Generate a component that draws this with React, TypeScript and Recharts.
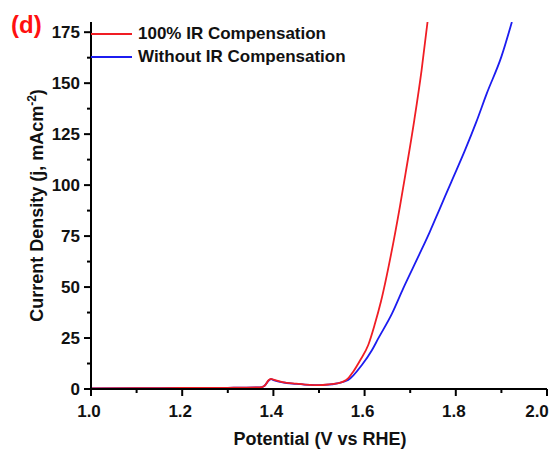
import React from 'react';
import { LineChart, Line, XAxis, YAxis, Legend, Label } from 'recharts';

// potential (V vs RHE) and current density (mA cm^-2)
const redV = [1.0, 1.1, 1.2, 1.3, 1.37, 1.38, 1.39, 1.395, 1.4, 1.42, 1.45, 1.48, 1.5, 1.52, 1.54, 1.553, 1.565, 1.575, 1.59, 1.608, 1.622, 1.636, 1.658, 1.678, 1.69, 1.709, 1.725, 1.738];
const redJ = [0.3, 0.4, 0.5, 0.6, 0.8, 1.5, 4.4, 5.0, 4.6, 3.4, 2.6, 2.0, 1.9, 2.2, 2.8, 3.6, 5.5, 8.5, 14, 21.6, 31.5, 43, 66, 90.2, 106, 131.9, 156.4, 180];

const blueV = [1.0, 1.1, 1.2, 1.3, 1.37, 1.38, 1.39, 1.395, 1.4, 1.42, 1.45, 1.48, 1.5, 1.52, 1.54, 1.564, 1.594, 1.616, 1.63, 1.66, 1.685, 1.72, 1.743, 1.765, 1.79, 1.82, 1.845, 1.868, 1.9, 1.923];
const blueJ = [0.3, 0.4, 0.5, 0.6, 0.8, 1.5, 4.2, 4.8, 4.4, 3.2, 2.5, 2.0, 1.9, 2.1, 2.8, 4.4, 11.8, 19, 24.8, 37, 49.5, 66, 77.1, 88.5, 101.5, 117, 131, 145, 163, 180];

const xTicks = [1.0, 1.1, 1.2, 1.3, 1.4, 1.5, 1.6, 1.7, 1.8, 1.9, 2.0];
const yTicks = [0, 12.5, 25, 37.5, 50, 62.5, 75, 87.5, 100, 112.5, 125, 137.5, 150, 162.5, 175];

const seriesNames = ['100% IR Compensation', 'Without IR Compensation'];
const seriesColors = ['#f01d24', '#1c1cf0'];

const redData = redV.map((v, i) => ({ v, j: redJ[i] }));
const blueData = blueV.map((v, i) => ({ v, j: blueJ[i] }));

const FONT = '"Liberation Sans", Arial, sans-serif';
const W = 550;
const H = 445;

const XTick = (props: any) => {
  const { x, y, payload, index } = props;
  const major = index % 2 === 0;
  // keep the last label inside the frame like the original
  const lx = Math.min(x - 2, W - 21);
  return (
    <g>
      <line x1={x} x2={x} y1={y} y2={y + (major ? 7 : 4)} stroke="#000" strokeWidth={2} />
      {major && (
        <text x={lx} y={y + 28} textAnchor="middle" fontSize={17} fontWeight="bold" fontFamily={FONT} fill="#111">
          {payload.value.toFixed(1)}
        </text>
      )}
    </g>
  );
};

const YTick = (props: any) => {
  const { x, y, payload, index } = props;
  const major = index % 2 === 0;
  return (
    <g>
      <line x1={x} x2={x - (major ? 7 : 4)} y1={y} y2={y} stroke="#000" strokeWidth={2} />
      {major && (
        <text x={x - 11} y={y + 6} textAnchor="end" fontSize={17} fontWeight="bold" fontFamily={FONT} fill="#111">
          {payload.value}
        </text>
      )}
    </g>
  );
};

const LegendBox = () => (
  <div style={{ fontFamily: FONT, fontWeight: 'bold', fontSize: 17, color: '#111' }}>
    {seriesNames.map((name, i) => (
      <div key={name} style={{ display: 'flex', alignItems: 'center', height: 23 }}>
        <svg width={43} height={4} style={{ display: 'block' }}>
          <line x1={0} x2={41} y1={2} y2={2} stroke={seriesColors[i]} strokeWidth={2} />
        </svg>
        <span style={{ marginLeft: 4, lineHeight: '23px' }}>{name}</span>
      </div>
    ))}
  </div>
);

const App = () => {
  return (
    <div style={{ position: 'relative', width: W, height: H }}>
      <style>{'body { overflow: hidden; }'}</style>
      <div
        style={{
          position: 'absolute', left: 3, top: 5, color: '#ff1010', fontFamily: FONT,
          fontWeight: 'bold', fontSize: 24, lineHeight: 1, zIndex: 2,
        }}
      >
        (d)
      </div>
      <LineChart width={W} height={H} margin={{ top: 14, right: 11, bottom: 0, left: 0 }}>
        <XAxis
          dataKey="v" type="number" domain={[1, 2]} ticks={xTicks} allowDataOverflow
          tick={<XTick />} tickLine={false} tickSize={0} tickMargin={0} height={64}
          axisLine={{ stroke: '#000', strokeWidth: 2 }} interval={0}
        >
          <Label
            content={(p: any) => {
              const vb = p.viewBox;
              return (
                <text x={vb.x + vb.width / 2 + 1} y={vb.y + 56} textAnchor="middle" fontSize={18} fontWeight="bold" fontFamily={FONT} fill="#111">
                  Potential (V vs RHE)
                </text>
              );
            }}
          />
        </XAxis>
        <XAxis xAxisId="top" orientation="top" type="number" domain={[1, 2]} height={0} tick={false} tickLine={false} axisLine={{ stroke: '#000', strokeWidth: 2 }} />
        <YAxis
          type="number" domain={[0, 180]} ticks={yTicks} allowDataOverflow width={83}
          tick={<YTick />} tickLine={false} tickSize={0} tickMargin={0} interval={0}
          axisLine={{ stroke: '#000', strokeWidth: 2 }}
        >
          <Label
            content={(p: any) => {
              const vb = p.viewBox;
              const cx = 35;
              const cy = vb.y + vb.height / 2;
              return (
                <text x={cx} y={cy} transform={`rotate(-90 ${cx} ${cy})`} textAnchor="middle" fontSize={18} fontWeight="bold" fontFamily={FONT} fill="#111">
                  Current Density (j, mAcm
                  <tspan fontSize={12} dy={-7}>-2</tspan>
                  <tspan dy={7}>)</tspan>
                </text>
              );
            }}
          />
        </YAxis>
        <YAxis yAxisId="right" orientation="right" type="number" domain={[0, 180]} width={0} tick={false} tickLine={false} axisLine={{ stroke: '#000', strokeWidth: 2 }} />
        <Legend
          layout="vertical" align="center" verticalAlign="middle"
          wrapperStyle={{ top: 14, left: 83, width: 'auto', height: 'auto' }}
          content={() => <LegendBox />}
        />
        <Line data={blueData} dataKey="j" name={seriesNames[1]} type="monotone" stroke={seriesColors[1]} strokeWidth={1.8} dot={false} isAnimationActive={false} />
        <Line data={redData} dataKey="j" name={seriesNames[0]} type="monotone" stroke={seriesColors[0]} strokeWidth={1.8} dot={false} isAnimationActive={false} />
      </LineChart>
    </div>
  );
};

export default App;
